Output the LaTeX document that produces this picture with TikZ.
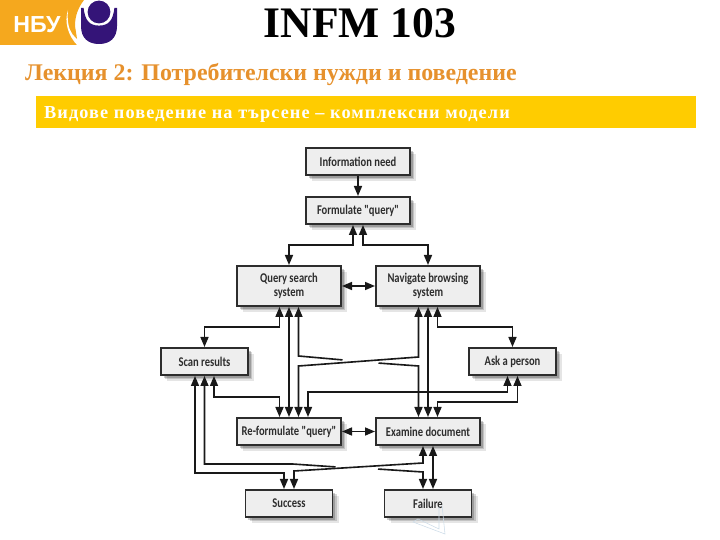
\documentclass[tikz,border=0pt]{standalone}
\usepackage{fontspec}
\setmainfont{Liberation Serif}
\newfontfamily\boxfont[FakeStretch=0.79]{Carlito}
\newfontfamily\logofont{Liberation Sans}
\usetikzlibrary{arrows.meta,positioning,shadows,calc}
\definecolor{nbuorange}{RGB}{245,168,30}
\definecolor{nbupurple}{RGB}{52,20,120}
\definecolor{headorange}{RGB}{230,145,45}
\definecolor{bandyellow}{RGB}{255,204,0}
\definecolor{boxgray}{RGB}{238,238,238}
\definecolor{inkgray}{RGB}{45,45,45}
\definecolor{markblue}{RGB}{205,220,232}
\tikzstyle{stepbox} = [rectangle, minimum width=5.2cm, minimum height=1.35cm, text centered, draw=inkgray, fill=boxgray, line width=2pt, outer sep=0pt, font=\boxfont\bfseries\fontsize{19}{19.5}\selectfont, text=inkgray, align=center, inner sep=0pt,
  drop shadow={shadow xshift=3mm,shadow yshift=-3mm,opacity=.1,fill=black},
  drop shadow={shadow xshift=2.2mm,shadow yshift=-2.2mm,opacity=.15,fill=black},
  drop shadow={shadow xshift=1.4mm,shadow yshift=-1.4mm,opacity=.2,fill=black}]
\tikzstyle{smallbox} = [stepbox, minimum width=4.35cm]
\tikzstyle{link} = [line width=2.3pt,color=black!90,>={Stealth[length=5mm,width=4mm,inset=0pt]},shorten >=.5mm,shorten <=.5mm]

\begin{document}
\begin{tikzpicture}
\useasboundingbox (0,0) rectangle (36,27);

% header
\fill[nbuorange] (0,27) -- (4.2,27) .. controls (3.9,26.6) and (3.75,26.2) .. (3.75,25.7) -- (3.9,24.75) -- (0,24.75) -- cycle;
\node[text=white, font=\logofont\bfseries\fontsize{33}{35}\selectfont] (nbu) at (1.85,25.75) {НБУ};
\fill[white] (3.4,26.5) .. controls (3.3,25.4) and (3.7,24.95) .. (4.6,24.7) -- (3.9,24.7) .. controls (3.4,25.2) and (3.2,25.9) .. (3.4,26.5);
\fill[nbupurple] (4.05,26.6) -- (4.05,25.7) .. controls (4.05,25.1) and (4.4,24.8) .. (4.95,24.8) .. controls (5.5,24.8) and (5.85,25.1) .. (5.85,25.7) -- (5.85,26.6) -- (5.72,26.6) .. controls (5.65,26) and (5.45,25.72) .. (4.95,25.72) .. controls (4.45,25.72) and (4.25,26) .. (4.18,26.6) -- cycle;
\fill[nbupurple] (4.95,26.4) circle (.57);
\node[font=\bfseries\fontsize{62}{66}\selectfont] (title) at (18,25.85) {INFM 103};
\node[font=\bfseries\fontsize{34}{38}\selectfont, text=headorange, anchor=west, inner sep=0pt] (lecture) at (1.25,23.25) {Лекция 2: Потребителски нужди и поведение};
\fill[bandyellow] (1.8,20.6) rectangle (34.8,22.2);
\node[font=\bfseries\fontsize{26}{28}\selectfont\addfontfeature{LetterSpace=6}, text=white, anchor=west, inner sep=0pt] (band) at (2.2,21.3) {Видове поведение на търсене – комплексни модели};

% boxes
\node[stepbox] (info) at (17.9,18.925) {Information need};
\node[stepbox, below=1.1cm of info] (formulate) {Formulate "query"};
\node[stepbox, minimum height=2cm, below=2.1cm of formulate, xshift=-3.45cm] (query) {Query search\\system};
\node[stepbox, minimum height=2cm, right=1.75cm of query] (navigate) {Navigate browsing\\system};
\node[smallbox, below=2.1cm of query, xshift=-4.225cm] (scan) {Scan results};
\node[smallbox, below=2.1cm of navigate, xshift=4.225cm] (ask) {Ask a person};
\node[stepbox, below=5.6cm of query] (reform) {Re-formulate "query"};
\node[stepbox, right=1.75cm of reform] (examine) {Examine document};
\node[smallbox, below=2.25cm of reform] (success) {Success};
\node[smallbox, below=2.25cm of examine] (failure) {Failure};

% connectors
\draw[link,->] (info) -- (formulate);
\draw[link,<->] ([xshift=-2.5mm]formulate.south) -- ++(0,-1.05) -| (query.north);
\draw[link,<->] ([xshift=2.5mm]formulate.south) -- ++(0,-1.05) -| (navigate.north);
\draw[link,<->] (query) -- (navigate);
\draw[link,<->] (reform) -- (examine);
\draw[link,<->] ([xshift=-4.75mm]query.south) -- ++(0,-1.05) -| (scan.north);
\draw[link,<->] ([xshift=4.75mm]navigate.south) -- ++(0,-1.05) -| (ask.north);
\draw[link,<->] (query.south) -- (reform.north);
\draw[link,<->] (navigate.south) -- (examine.north);
\draw[link,<-] ([xshift=4.75mm]query.south) -- ++(0,-2.5) -- ++(2.25,-.2);
\draw[link,<-] ([xshift=-4.75mm]examine.north) -- ++(0,2.6) -- ++(-2.05,.15);
\draw[link,<->] ([xshift=-4.75mm]navigate.south) -- ++(0,-2.55) -- ([xshift=4.75mm,yshift=2.6cm]reform.north) -- ([xshift=4.75mm]reform.north);
\draw[link,<->] ([xshift=4.75mm]scan.south) -- ++(0,-1.1) -| ([xshift=-4.75mm]reform.north);
\draw[link,<->] ([xshift=-2.5mm]ask.south) -- ++(0,-.85) -| ([xshift=9.5mm]reform.north);
\draw[link,<->] ([xshift=2.5mm]ask.south) -- ++(0,-1.35) -| ([xshift=4.75mm]examine.north);
\draw[link,<->] ([xshift=-4.75mm]scan.south) -- ++(0,-4.9) -| ([xshift=-2.5mm]success.north);
\draw[link,<-] (scan.south) -- ++(0,-4.45) -- ++(4.4,0) -- ++(2.2,-.15);
\draw[link,<-] ([xshift=-2.5mm]failure.north) -- ++(0,.9) -- ++(-2.3,.15);
\draw[link,<->] ([xshift=-2.5mm]examine.south) -- ++(0,-.9) -- ([xshift=2.5mm,yshift=.95cm]success.north) -- ([xshift=2.5mm]success.north);
\draw[link,<->] ([xshift=2.5mm]examine.south) -- ([xshift=2.5mm]failure.north);

% faint mark under failure box
\draw[markblue, line width=.8pt] (22.1,1.75) -- (22.25,.3) -- (20.65,.9) -- (20.9,1.05) -- (21.95,.55) -- (21.95,1.65);
\end{tikzpicture}
\end{document}
